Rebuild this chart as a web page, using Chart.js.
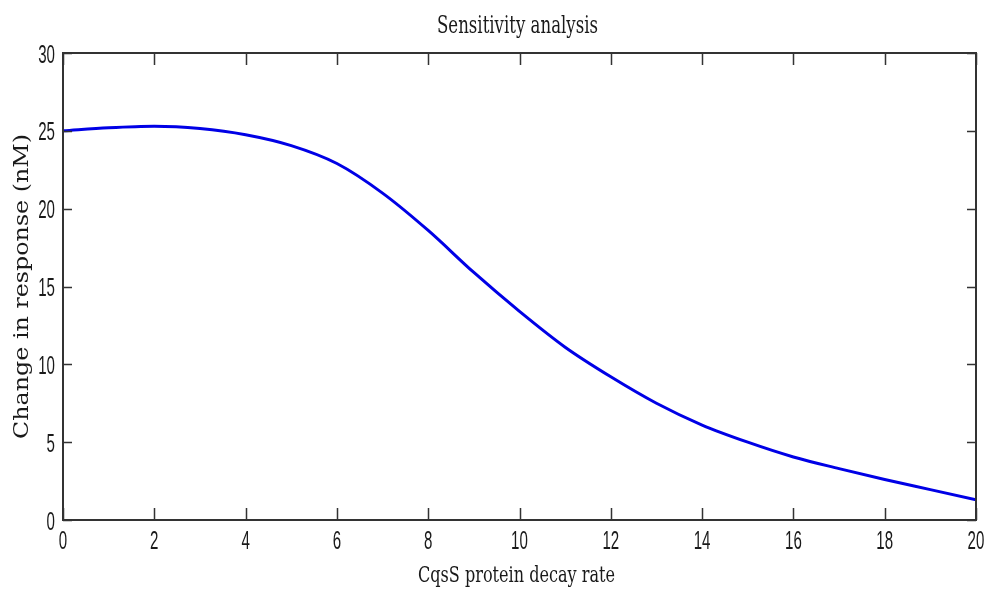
<!DOCTYPE html>
<html>
<head>
<meta charset="utf-8">
<title>Sensitivity analysis</title>
<script src="https://cdn.jsdelivr.net/npm/chart.js@4.4.1/dist/chart.umd.min.js"></script>
<style>
  html, body { margin: 0; padding: 0; background: #fff; }
  #wrap { width: 987px; height: 589px; }
</style>
</head>
<body>
<div id="wrap"><canvas id="chart" width="987" height="589"></canvas></div>
<script>
// decay rate vs. change in response
const decayRate = [0, 1, 2, 3, 4, 5, 6, 7, 8, 9, 10, 11, 12, 13, 14, 15, 16, 17, 18, 19, 20];
const responseChange = [25.0, 25.2, 25.3, 25.15, 24.75, 24.05, 22.9, 21.0, 18.6, 15.9, 13.4, 11.1, 9.2, 7.5, 6.1, 5.0, 4.05, 3.3, 2.6, 1.95, 1.3];

const xTicks = [0, 2, 4, 6, 8, 10, 12, 14, 16, 18, 20];
const yTicks = [0, 5, 10, 15, 20, 25, 30];

const chartTitle = 'Sensitivity analysis';
const xTitle = 'CqsS protein decay rate';
const yTitle = 'Change in response (nM)';

const serif = '"DejaVu Serif", serif';
const sans = '"Liberation Sans", Arial, sans-serif';

// text squeezed horizontally to a set width (narrow plot fonts)
function squeezed(ctx, text, x, y, opts) {
    ctx.save();
    ctx.font = opts.font;
    ctx.textBaseline = 'alphabetic';
    const w = ctx.measureText(text).width;
    const sx = opts.width ? opts.width / w : opts.sx;
    ctx.translate(x, y);
    if (opts.rotate) ctx.rotate(opts.rotate);
    ctx.scale(sx, 1);
    let dx = 0;
    if (opts.align === 'center') dx = -w / 2;
    else if (opts.align === 'right') dx = -w;
    ctx.fillText(text, dx, 0);
    ctx.restore();
}

// box around the plot with inward tick marks, tick labels and titles
const frame = {
    id: 'frame',
    afterDraw(chart) {
        const { ctx, chartArea: a, scales } = chart;
        ctx.save();
        ctx.strokeStyle = '#333';
        ctx.lineWidth = 2;
        ctx.strokeRect(a.left, a.top, a.right - a.left, a.bottom - a.top);
        ctx.lineWidth = 1.5;
        ctx.beginPath();
        xTicks.forEach(v => {
            const px = Math.round(scales.x.getPixelForValue(v)) + 0.5;
            ctx.moveTo(px, a.bottom); ctx.lineTo(px, a.bottom - 12);
            ctx.moveTo(px, a.top); ctx.lineTo(px, a.top + 12);
        });
        yTicks.forEach(v => {
            const py = Math.round(scales.y.getPixelForValue(v)) + 0.5;
            ctx.moveTo(a.left, py); ctx.lineTo(a.left + 9, py);
            ctx.moveTo(a.right, py); ctx.lineTo(a.right - 9, py);
        });
        ctx.stroke();

        ctx.fillStyle = '#1a1a1a';
        const tickFont = '26px ' + sans;
        xTicks.forEach(v => {
            squeezed(ctx, String(v), scales.x.getPixelForValue(v), a.bottom + 29,
                { font: tickFont, sx: 0.58, align: 'center' });
        });
        yTicks.forEach(v => {
            squeezed(ctx, String(v), a.left - 8, scales.y.getPixelForValue(v) + 9.5,
                { font: tickFont, sx: 0.58, align: 'right' });
        });

        const midX = (a.left + a.right) / 2 - 2;
        squeezed(ctx, chartTitle, midX, 33, { font: '24px ' + serif, width: 161, align: 'center' });
        squeezed(ctx, xTitle, midX - 1, 582, { font: '23px ' + serif, width: 197, align: 'center' });
        squeezed(ctx, yTitle, 28, (a.top + a.bottom) / 2, { font: '20px ' + serif, width: 305, align: 'center', rotate: -Math.PI / 2 });
        ctx.restore();
    }
};

new Chart(document.getElementById('chart'), {
    type: 'line',
    data: {
        labels: decayRate,
        datasets: [{
            data: decayRate.map((x, i) => ({ x: x, y: responseChange[i] })),
            borderColor: '#0000e6',
            borderWidth: 3,
            pointRadius: 0,
            cubicInterpolationMode: 'monotone',
            fill: false
        }]
    },
    options: {
        responsive: false,
        animation: false,
        layout: { padding: { top: 53, right: 11, left: 0, bottom: 0 } },
        plugins: {
            legend: { display: false },
            tooltip: { enabled: false }
        },
        scales: {
            x: {
                type: 'linear',
                min: 0,
                max: 20,
                afterBuildTicks: s => { s.ticks = xTicks.map(v => ({ value: v })); },
                afterFit: s => { s.height = 69; },
                grid: { display: false },
                border: { display: false },
                ticks: { display: false }
            },
            y: {
                min: 0,
                max: 30,
                afterBuildTicks: s => { s.ticks = yTicks.map(v => ({ value: v })); },
                afterFit: s => { s.width = 63; },
                grid: { display: false },
                border: { display: false },
                ticks: { display: false }
            }
        }
    },
    plugins: [frame]
});
</script>
</body>
</html>
